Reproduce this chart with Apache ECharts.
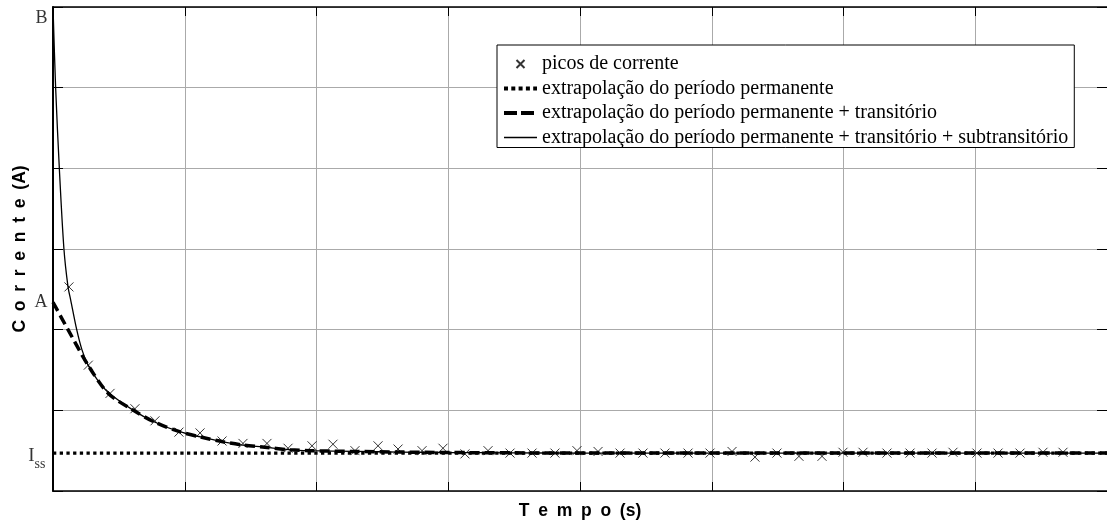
<!DOCTYPE html>
<html>
<head>
<meta charset="utf-8">
<script src="https://cdn.jsdelivr.net/npm/echarts@6/dist/echarts.min.js"></script>
<style>
  html, body { margin: 0; padding: 0; background: #fff; }
  #chart { width: 1107px; height: 522px; }
</style>
</head>
<body>
<div id="chart"></div>
<script>
// picos de corrente (tempo, corrente)
const picosT = [0.121, 0.268, 0.433, 0.622, 0.774, 0.956, 1.116, 1.283, 1.442, 1.624, 1.784, 1.966, 2.125, 2.292,
  2.467, 2.619, 2.801, 2.960, 3.127, 3.302, 3.469, 3.636, 3.810, 3.977, 4.137, 4.304, 4.478, 4.645, 4.820, 4.987,
  5.154, 5.328, 5.495, 5.662, 5.837, 5.996, 6.148, 6.330, 6.505, 6.672, 6.831, 7.013, 7.173, 7.340, 7.514, 7.666]
const picosI = [2.53, 1.56, 1.21, 1.02, 0.87, 0.73, 0.72, 0.62, 0.59, 0.59, 0.53, 0.56, 0.58, 0.50,
  0.56, 0.52, 0.50, 0.53, 0.46, 0.50, 0.47, 0.47, 0.47, 0.50, 0.49, 0.47, 0.47, 0.47, 0.47, 0.47,
  0.49, 0.42, 0.47, 0.43, 0.43, 0.48, 0.48, 0.47, 0.47, 0.47, 0.48, 0.47, 0.47, 0.47, 0.48, 0.48]

// periodo permanente
const permT = [0, 8]
const permI = [0.47, 0.47]

// permanente + transitorio
const transT = [0, 0.114, 0.266, 0.42, 0.61, 0.77, 0.96, 1.12, 1.29, 1.44, 1.59, 1.8, 1.95, 2.3, 2.63, 3.0, 3.5, 4.0, 8.0]
const transI = [2.34, 2.0, 1.56, 1.21, 1.0, 0.855, 0.735, 0.67, 0.61, 0.57, 0.545, 0.51, 0.50, 0.49, 0.483, 0.477, 0.473, 0.47, 0.47]

// permanente + transitorio + subtransitorio
const subT = [0, 0.02, 0.048, 0.083, 0.114, 0.134, 0.18, 0.22, 0.266, 0.34, 0.42, 0.61, 0.77, 0.96, 1.12, 1.29, 1.44, 1.59, 1.8, 1.95, 2.3, 2.63, 3.0, 3.5, 4.0, 8.0]
const subI = [6.0, 5.0, 4.0, 3.0, 2.53, 2.37, 2.0, 1.75, 1.56, 1.37, 1.22, 1.0, 0.855, 0.735, 0.67, 0.61, 0.57, 0.545, 0.51, 0.50, 0.49, 0.483, 0.477, 0.473, 0.47, 0.47]

// marcas no eixo vertical
const marcasI = [6.0, 2.34, 0.47]
const marcasTxt = ['B', 'A', '{i|I}{s|ss}']

const pares = (xs, ys) => xs.map((x, i) => [x, ys[i]])

const serif = 'Liberation Serif'
const sans = 'Liberation Sans'
const esp = '\u2002' // espaço entre letras dos títulos dos eixos

const nomeX = ['T', 'e', 'm', 'p', 'o', '(s)'].join(esp)
const nomeY = ['C', 'o', 'r', 'r', 'e', 'n', 't', 'e', '(A)'].join(esp)

const pontilhado = { color: '#000', width: 3.3, type: [3.3, 3.4] }
const tracejado = { color: '#000', width: 3.5, type: [10, 5] }
const continuo = { color: '#000', width: 1.3 }

let myChart = echarts.init(document.getElementById('chart'))

const semSimbolo = { opacity: 0 }

// eixos sem rótulos, com marcas para dentro
const eixoX = (pos) => ({
  type: 'value', min: 0, max: 8, interval: 1, position: pos,
  axisLine: { show: true, onZero: false, lineStyle: { color: '#000', width: 1.5 } },
  axisTick: { show: true, inside: true, length: 9, lineStyle: { color: '#000' } },
  axisLabel: { show: false },
  splitLine: { show: false }
})
const eixoY = (pos) => ({
  type: 'value', min: 0, max: 6, interval: 1, position: pos,
  axisLine: { show: pos === 'left', onZero: false, lineStyle: { color: '#000', width: 2 } },
  axisTick: { show: true, inside: true, length: 10, lineStyle: { color: '#000' } },
  axisLabel: { show: false },
  splitLine: { show: false }
})

let option = {
  animation: false,
  backgroundColor: '#fff',
  grid: { left: 53, right: 0, top: 7, bottom: 31, outerBoundsMode: 'none' },
  legend: {
    orient: 'vertical',
    left: 497,
    top: 45,
    itemWidth: 33,
    itemHeight: 16,
    itemGap: 4.5,
    padding: [9, 6, 0, 5],
    backgroundColor: '#fff',
    borderColor: '#000',
    borderWidth: 1,
    borderRadius: 0,
    textStyle: { fontFamily: serif, fontSize: 20, color: '#000' },
    data: [
      { name: 'picos de corrente', icon: 'path://M-5,-5M15,15M0,0L10,10M10,0L0,10' },
      { name: 'extrapolação do período permanente', itemStyle: semSimbolo,
        lineStyle: { width: 4, type: [4, 3.3] } },
      { name: 'extrapolação do período permanente + transitório', itemStyle: semSimbolo,
        lineStyle: { width: 4, type: [13, 4] } },
      { name: 'extrapolação do período permanente + transitório + subtransitório', itemStyle: semSimbolo,
        lineStyle: { width: 1.3 } }
    ]
  },
  xAxis: [
    Object.assign(eixoX('bottom'), {
      name: nomeX, nameLocation: 'middle', nameGap: 11,
      nameTextStyle: { fontFamily: sans, fontWeight: 'bold', fontSize: 17.5, color: '#000' },
      splitLine: { show: true, lineStyle: { color: '#aaa', width: 1 } }
    }),
    eixoX('top')
  ],
  yAxis: [
    Object.assign(eixoY('left'), {
      name: nomeY, nameLocation: 'middle', nameGap: 24, nameRotate: 90,
      nameTextStyle: { fontFamily: sans, fontWeight: 'bold', fontSize: 17.5, color: '#000' },
      splitLine: { show: true, lineStyle: { color: '#aaa', width: 1 } }
    }),
    eixoY('right')
  ],
  series: [
    {
      name: 'extrapolação do período permanente',
      type: 'line',
      data: pares(permT, permI),
      symbol: 'none',
      lineStyle: pontilhado,
      itemStyle: { color: '#000' },
      z: 2
    },
    {
      name: 'extrapolação do período permanente + transitório',
      type: 'line',
      data: pares(transT, transI),
      symbol: 'none',
      smooth: 0.3,
      lineStyle: tracejado,
      itemStyle: { color: '#000' },
      z: 3
    },
    {
      name: 'extrapolação do período permanente + transitório + subtransitório',
      type: 'line',
      data: pares(subT, subI),
      symbol: 'none',
      smooth: 0.3,
      lineStyle: continuo,
      itemStyle: { color: '#000' },
      z: 4
    },
    {
      name: 'picos de corrente',
      type: 'scatter',
      data: pares(picosT, picosI),
      symbol: 'path://M0,0L10,10M10,0L0,10',
      symbolSize: 9,
      itemStyle: { color: 'transparent', borderColor: '#000', borderWidth: 1 },
      z: 5
    },
    {
      name: 'marcas',
      type: 'scatter',
      data: marcasI.map((v, i) => ({
        value: [0, v],
        label: { formatter: marcasTxt[i], offset: [[0, 11], [0, 0], [-2, 3]][i] }
      })),
      symbolSize: 1,
      itemStyle: { color: 'transparent' },
      clip: false,
      silent: true,
      label: {
        show: true,
        position: 'left',
        distance: 5,
        color: '#000',
        fontFamily: serif,
        fontSize: 18,
        rich: {
          i: { fontFamily: serif, fontSize: 19, color: '#000' },
          s: { fontFamily: serif, fontSize: 14, color: '#000', padding: [16, 0, 0, 0] }
        }
      },
      z: 6
    }
  ]
}
myChart.setOption(option)
</script>
</body>
</html>
